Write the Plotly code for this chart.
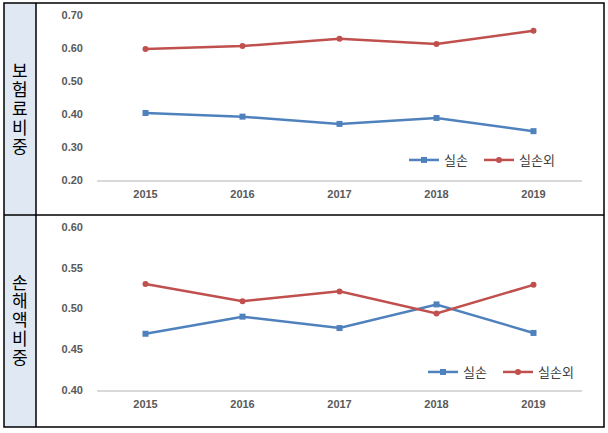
import plotly.graph_objects as go

# data
years = ["2015", "2016", "2017", "2018", "2019"]
premium_silson = [0.403, 0.392, 0.370, 0.388, 0.348]
premium_other = [0.597, 0.606, 0.628, 0.612, 0.652]
loss_silson = [0.469, 0.490, 0.476, 0.505, 0.470]
loss_other = [0.530, 0.509, 0.521, 0.494, 0.529]

W, H = 608, 433
BLUE = "#4f81bd"
RED = "#c0504d"
TICK = dict(family="Liberation Sans", size=11, color="#595959", weight="bold")


def px(x):
    return x / W


def py(y):
    return 1 - y / H


fig = go.Figure()

panels = [
    ("x", "y", "legend", premium_silson, premium_other),
    ("x2", "y2", "legend2", loss_silson, loss_other),
]
for xax, yax, leg, s1, s2 in panels:
    fig.add_trace(go.Scatter(
        x=years, y=s1, xaxis=xax, yaxis=yax, name="실손", legend=leg,
        mode="lines+markers",
        line=dict(color=BLUE, width=2.5),
        marker=dict(symbol="square", size=6, color=BLUE),
    ))
    fig.add_trace(go.Scatter(
        x=years, y=s2, xaxis=xax, yaxis=yax, name="실손외", legend=leg,
        mode="lines+markers",
        line=dict(color=RED, width=2.5),
        marker=dict(symbol="circle", size=6, color=RED),
    ))

xcommon = dict(
    type="category", range=[-0.5, 4.5], domain=[px(97), px(582)],
    showline=True, linecolor="#d9d9d9", linewidth=1.5,
    showgrid=False, zeroline=False, ticks="", automargin=False,
    tickfont=TICK, ticklabelstandoff=3,
)
ycommon = dict(
    showline=False, showgrid=False, zeroline=False, ticks="", automargin=False,
    tickformat=".2f", tickfont=TICK, ticklabelstandoff=13,
)

# table frame
shapes = [
    dict(type="rect", xref="paper", yref="paper", x0=px(4), x1=px(36), y0=py(427), y1=py(3),
         fillcolor="#dfe8f3", line=dict(width=0), layer="below"),
    dict(type="rect", xref="paper", yref="paper", x0=px(4), x1=px(604), y0=py(427), y1=py(3),
         line=dict(color="black", width=1.5)),
    dict(type="line", xref="paper", yref="paper", x0=px(36), x1=px(36), y0=py(427), y1=py(3),
         line=dict(color="black", width=1.5)),
    dict(type="line", xref="paper", yref="paper", x0=px(4), x1=px(604), y0=py(215), y1=py(215),
         line=dict(color="black", width=1.5)),
]

# vertical row labels, one character per line
row_labels = [("보험료비중", 70), ("손해액비중", 281)]
annotations = []
for word, ytop in row_labels:
    for i, ch in enumerate(word):
        annotations.append(dict(
            text=ch, xref="paper", yref="paper", x=px(20), y=py(ytop + i * 18.8),
            showarrow=False, font=dict(family="Noto Sans CJK KR", size=17, color="black"),
            xanchor="center", yanchor="middle",
        ))

legfont = dict(family="Noto Sans CJK KR", size=13, color="#404040")
fig.update_layout(
    width=W, height=H,
    margin=dict(l=0, r=0, t=0, b=0, autoexpand=False),
    paper_bgcolor="white", plot_bgcolor="white",
    xaxis=dict(xcommon, anchor="y"),
    xaxis2=dict(xcommon, anchor="y2"),
    yaxis=dict(ycommon, domain=[py(180), py(15)], range=[0.2, 0.7], dtick=0.1),
    yaxis2=dict(ycommon, domain=[py(390), py(227)], range=[0.4, 0.6], dtick=0.05),
    legend=dict(orientation="h", x=px(404), y=py(160), xanchor="left", yanchor="middle",
                font=legfont, bgcolor="rgba(0,0,0,0)", itemwidth=30, entrywidth=30),
    legend2=dict(orientation="h", x=px(423), y=py(372), xanchor="left", yanchor="middle",
                 font=legfont, bgcolor="rgba(0,0,0,0)", itemwidth=30, entrywidth=30),
    shapes=shapes,
    annotations=annotations,
)

fig.write_html(
    "out.html",
    config={"displayModeBar": False},
    post_script="document.body.style.margin = '0px';",
)
